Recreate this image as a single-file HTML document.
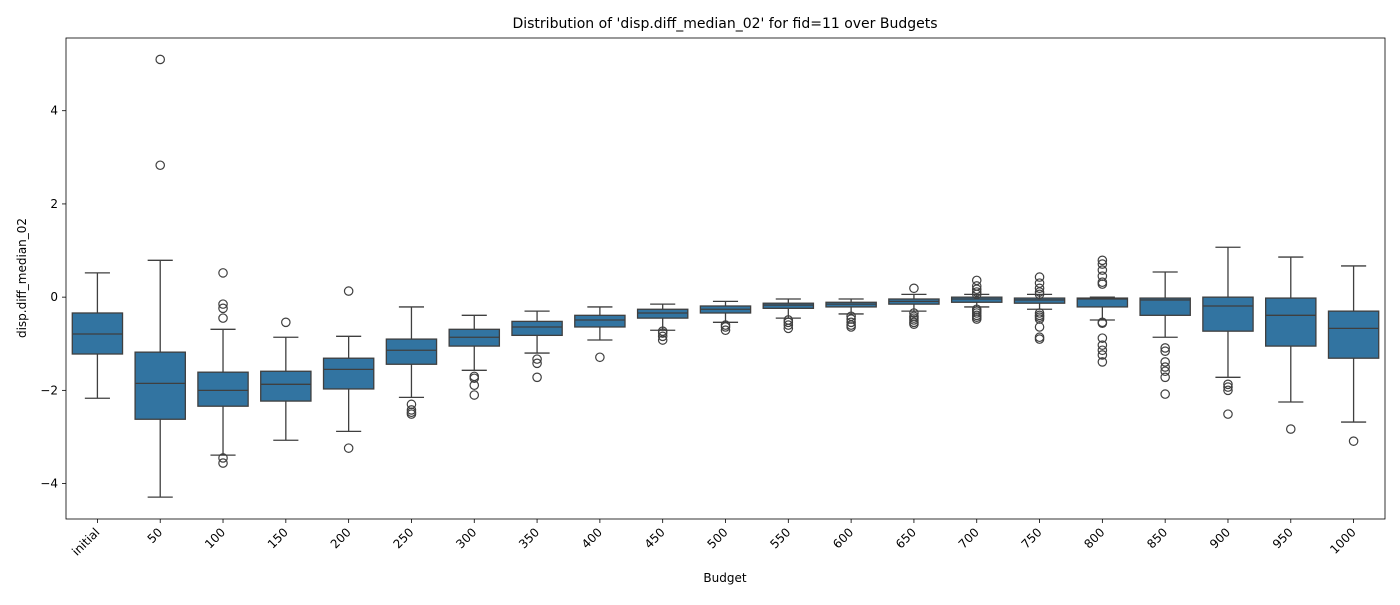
<!DOCTYPE html>
<html><head><meta charset="utf-8"><style>
body{margin:0;background:#fff;}
svg text{font-family:"DejaVu Sans","Liberation Sans",sans-serif;fill:#000;}
</style></head><body>
<svg id="chart" width="1400" height="600" xmlns="http://www.w3.org/2000/svg">
<rect x="0" y="0" width="1400" height="600" fill="#fff"/>
<text x="725" y="28" font-size="14" text-anchor="middle">Distribution of 'disp.diff_median_02' for fid=11 over Budgets</text>
<text x="725" y="582" font-size="12" text-anchor="middle">Budget</text>
<text x="26" y="278" font-size="12" text-anchor="middle" transform="rotate(-90 26 278)">disp.diff_median_02</text>
<g id="plot"></g>
<rect x="66" y="38" width="1319" height="481" fill="none" stroke="#000" stroke-width="0.8"/>
</svg>
<script>
const categories=["initial","50","100","150","200","250","300","350","400","450","500","550","600","650","700","750","800","850","900","950","1000"];
const whiskerHigh=[0.52,0.79,-0.69,-0.86,-0.84,-0.21,-0.39,-0.30,-0.21,-0.15,-0.09,-0.04,-0.04,0.06,0.06,0.06,0.00,0.54,1.07,0.86,0.67];
const q3=[-0.34,-1.18,-1.61,-1.59,-1.31,-0.90,-0.69,-0.52,-0.39,-0.26,-0.19,-0.13,-0.11,-0.04,0.00,-0.02,-0.02,-0.02,0.00,-0.02,-0.30];
const medians=[-0.79,-1.85,-2.00,-1.87,-1.55,-1.14,-0.86,-0.64,-0.49,-0.34,-0.26,-0.17,-0.15,-0.09,-0.04,-0.06,-0.04,-0.06,-0.19,-0.39,-0.67];
const q1=[-1.22,-2.62,-2.34,-2.23,-1.97,-1.44,-1.05,-0.82,-0.64,-0.45,-0.34,-0.24,-0.21,-0.15,-0.11,-0.13,-0.21,-0.39,-0.73,-1.05,-1.31];
const whiskerLow=[-2.17,-4.29,-3.39,-3.07,-2.88,-2.15,-1.57,-1.20,-0.92,-0.71,-0.54,-0.45,-0.36,-0.30,-0.21,-0.26,-0.49,-0.86,-1.72,-2.25,-2.68];
const outliers=[[],[5.1,2.83],[0.52,-0.15,-0.24,-0.45,-3.45,-3.56],[-0.54],[0.13,-3.24],[-2.3,-2.42,-2.47,-2.51],[-1.7,-1.74,-1.89,-2.1],[-1.33,-1.42,-1.72],[-1.29],[-0.73,-0.77,-0.84,-0.92],[-0.6,-0.64,-0.71],[-0.49,-0.54,-0.6,-0.67],[-0.41,-0.47,-0.54,-0.6,-0.64],[0.19,-0.34,-0.41,-0.45,-0.49,-0.54,-0.58],[0.36,0.24,0.17,0.11,0.06,-0.26,-0.3,-0.34,-0.39,-0.43,-0.47],[0.43,0.3,0.19,0.11,0.06,-0.34,-0.39,-0.43,-0.47,-0.64,-0.86,-0.9],[0.79,0.71,0.58,0.45,0.32,0.28,-0.54,-0.56,-0.88,-1.03,-1.14,-1.24,-1.39],[-1.09,-1.16,-1.39,-1.5,-1.59,-1.72,-2.08],[-1.87,-1.93,-2.0,-2.51],[-2.83],[-3.09]];
const yTicks=[-4,-2,0,2,4];
const X0=66,W=1319,Y0=38,H=481,yMin=-4.76,yMax=5.56;
const step=W/categories.length;
const xPos=i=>X0+step*(i+0.5);
const yPos=v=>Y0+(yMax-v)/(yMax-yMin)*H;
const g=document.getElementById('plot');
const NS='http://www.w3.org/2000/svg';
function mk(tag,attrs){const e=document.createElementNS(NS,tag);for(const k in attrs)e.setAttribute(k,attrs[k]);g.appendChild(e);return e;}
yTicks.forEach(t=>{
  const y=yPos(t);
  const l=mk('line',{x1:X0-4,x2:X0,y1:y,y2:y,stroke:'#000','stroke-width':0.8});
  
  
  const tx=mk('text',{x:X0-8,y:y+4,'font-size':12,'text-anchor':'end'});
  tx.textContent=t<0?'\u2212'+Math.abs(t):String(t);
  
  
});
const bw=step*0.8, stroke='#3f3f3f';
categories.forEach((c,i)=>{
  const x=xPos(i);
  const tk=mk('line',{x1:x,x2:x,y1:Y0+H,y2:Y0+H+4,stroke:'#000','stroke-width':0.8});
  
  
  const tx=mk('text',{x:x+3,y:Y0+H+14,'font-size':12,'text-anchor':'end',transform:`rotate(-45 ${x+3} ${Y0+H+14})`});
  tx.textContent=c;
  
  
  const wl=mk('line',{x1:x,x2:x,y1:yPos(whiskerHigh[i]),y2:yPos(q3[i]),stroke:stroke,'stroke-width':1.3});
  
  
  const wl2=mk('line',{x1:x,x2:x,y1:yPos(q1[i]),y2:yPos(whiskerLow[i]),stroke:stroke,'stroke-width':1.3});
  
  
  [whiskerHigh[i],whiskerLow[i]].forEach(v=>{
    const cap=mk('line',{x1:x-bw/4,x2:x+bw/4,y1:yPos(v),y2:yPos(v),stroke:stroke,'stroke-width':1.3});
    
    
  });
  const b=mk('rect',{x:x-bw/2,y:yPos(q3[i]),width:bw,height:Math.max(1,yPos(q1[i])-yPos(q3[i])),fill:'#3274a1',stroke:stroke,'stroke-width':1.3});
  
  
  const m=mk('line',{x1:x-bw/2,x2:x+bw/2,y1:yPos(medians[i]),y2:yPos(medians[i]),stroke:stroke,'stroke-width':1.3});
  
  
  outliers[i].forEach(v=>{
    const o=mk('circle',{cx:x,cy:yPos(v),r:4.2,fill:'none',stroke:stroke,'stroke-width':1.2});
    
    
  });
});
</script>
</body></html>
